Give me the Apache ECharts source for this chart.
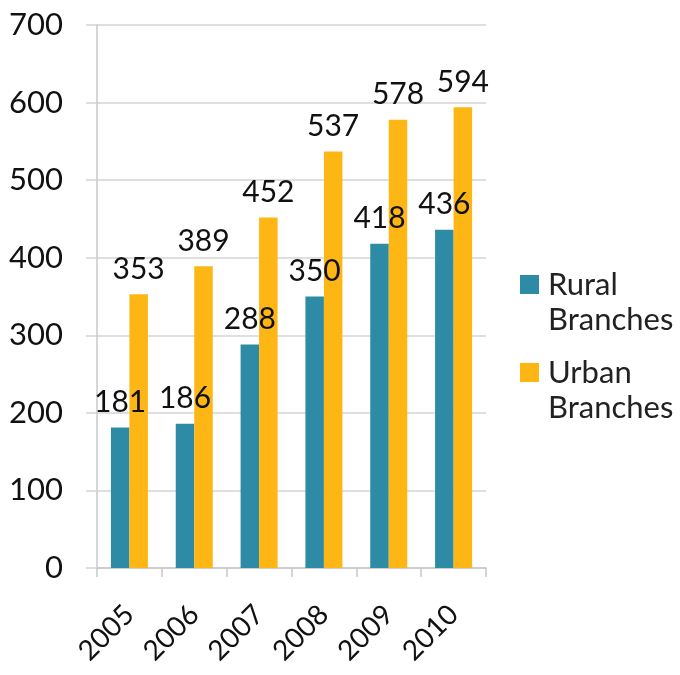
<!DOCTYPE html>
<html>
<head>
<meta charset="utf-8">
<script src="https://cdn.jsdelivr.net/npm/echarts@6/dist/echarts.min.js"></script>
<style>
  html, body { margin: 0; padding: 0; background: #fff; }
  #chart { width: 680px; height: 675px; }
</style>
</head>
<body>
<div id="chart"></div>
<script>
// Bank branches per year, rural vs urban
const years = ['2005', '2006', '2007', '2008', '2009', '2010'];
const ruralBranches = [181, 186, 288, 350, 418, 436];
const urbanBranches = [353, 389, 452, 537, 578, 594];
const seriesNames = ['Rural\nBranches', 'Urban\nBranches'];

const FONT = 'Lato, "Open Sans", sans-serif';
const chart = echarts.init(document.getElementById('chart'));

const labelStyle = {
  show: true,
  position: 'top',
  distance: 10,
  color: '#111',
  fontFamily: FONT,
  fontSize: 30
};

// One legend block per series; a leading empty line keeps each swatch
// level with the first line of its two-line name
function legendBlock(name, top) {
  return {
    orient: 'vertical',
    left: 520,
    top: top,
    padding: 0,
    itemWidth: 19,
    itemHeight: 19,
    icon: 'rect',
    formatter: n => '\n' + n,
    textStyle: {
      fontFamily: FONT,
      fontSize: 31,
      color: '#222',
      lineHeight: 35,
      padding: [0, 0, 0, 4]
    },
    data: [name]
  };
}

chart.setOption({
  animation: false,
  backgroundColor: '#fff',
  grid: { left: 97, right: 194, top: 25, bottom: 107 },
  legend: [
    legendBlock(seriesNames[0], 232),
    legendBlock(seriesNames[1], 320)
  ],
  xAxis: {
    type: 'category',
    data: years,
    axisLine: { lineStyle: { color: '#c8c8c8', width: 1.5 } },
    axisTick: { show: true, length: 9, lineStyle: { color: '#c8c8c8', width: 1.5 } },
    axisLabel: {
      rotate: 45,
      margin: 42,
      color: '#111',
      fontFamily: FONT,
      fontSize: 28
    }
  },
  yAxis: {
    type: 'value',
    min: 0,
    max: 700,
    interval: 100,
    axisLine: { show: true, lineStyle: { color: '#c8c8c8', width: 1.5 } },
    axisTick: { show: true, length: 11, lineStyle: { color: '#d4d4d4', width: 1.5 } },
    splitLine: { lineStyle: { color: '#d4d4d4', width: 1.5 } },
    axisLabel: {
      margin: 34,
      color: '#111',
      fontFamily: FONT,
      fontSize: 31
    }
  },
  series: [
    {
      name: seriesNames[0],
      type: 'bar',
      data: ruralBranches,
      barWidth: 18.5,
      barGap: '0%',
      itemStyle: { color: '#2E8BA5' },
      label: labelStyle
    },
    {
      name: seriesNames[1],
      type: 'bar',
      data: urbanBranches,
      barWidth: 18.5,
      barGap: '0%',
      itemStyle: { color: '#FDB614' },
      label: labelStyle
    }
  ]
});
</script>
</body>
</html>
